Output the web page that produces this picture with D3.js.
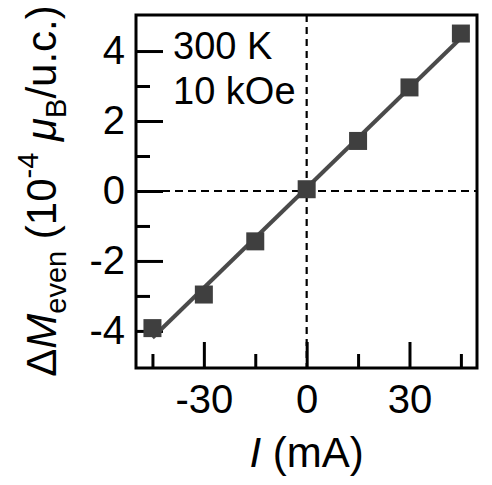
<!DOCTYPE html>
<html>
<head>
<meta charset="utf-8">
<script src="https://cdn.jsdelivr.net/npm/d3@7"></script>
<style>
  body { margin: 0; background: #fff; }
  text { font-family: "Liberation Sans", Arial, sans-serif; }
</style>
</head>
<body>
<div id="chart"></div>
<script>
// current (mA) and even magnetization change (10^-4 muB/u.c.)
var currents = [-45, -30, -15, 0, 15, 30, 45];
var deltaM = [-3.92, -2.96, -1.44, 0.05, 1.43, 2.96, 4.5];
var xMajorTicks = [-30, 0, 30];
var xMinorTicks = [-45, -15, 15, 45];
var yMajorTicks = [-4, -2, 0, 2, 4];
var yMinorTicks = [-3, -1, 1, 3];
var notes = ["300 K", "10 kOe"];

var W = 492, H = 485;
var margin = {left: 136, top: 15, right: 15, bottom: 117};
var w = W - margin.left - margin.right;
var h = H - margin.top - margin.bottom;

var svg = d3.select("#chart").append("svg")
  .attr("width", W)
  .attr("height", H);

var g = svg.append("g")
  .attr("transform", "translate(" + margin.left + "," + margin.top + ")");

var x = d3.scaleLinear().domain([-49.8, 49.7]).range([0, w]);
var y = d3.scaleLinear().domain([-5.06, 5.03]).range([h, 0]);

// dashed zero lines
g.append("line")
  .attr("x1", x(0)).attr("x2", x(0))
  .attr("y1", 0).attr("y2", h)
  .attr("stroke", "#000").attr("stroke-width", 2.2)
  .attr("stroke-dasharray", "7,5");
g.append("line")
  .attr("x1", 0).attr("x2", w)
  .attr("y1", y(0)).attr("y2", y(0))
  .attr("stroke", "#000").attr("stroke-width", 2.2)
  .attr("stroke-dasharray", "8,5");

// axes: major ticks with labels, minor ticks without
function styleAxis(sel) {
  sel.select(".domain").remove();
  sel.selectAll(".tick line").attr("stroke", "#000").attr("stroke-width", 3);
  sel.selectAll(".tick text")
    .attr("fill", "#000")
    .style("font-size", "40px");
}
var plain = function(d) { return String(d); };

var xAxis = g.append("g")
  .attr("transform", "translate(0," + h + ")")
  .call(d3.axisBottom(x).tickValues(xMajorTicks).tickSize(-26).tickPadding(17)
    .tickFormat(plain));
styleAxis(xAxis);

var xMinor = g.append("g")
  .attr("transform", "translate(0," + h + ")")
  .call(d3.axisBottom(x).tickValues(xMinorTicks).tickSize(-14).tickFormat(""));
styleAxis(xMinor);

var yAxis = g.append("g")
  .call(d3.axisLeft(y).tickValues(yMajorTicks).tickSize(-27).tickPadding(11)
    .tickFormat(plain));
styleAxis(yAxis);

var yMinor = g.append("g")
  .call(d3.axisLeft(y).tickValues(yMinorTicks).tickSize(-14).tickFormat(""));
styleAxis(yMinor);

// frame
g.append("rect")
  .attr("x", 0).attr("y", 0)
  .attr("width", w).attr("height", h)
  .attr("fill", "none")
  .attr("stroke", "#000")
  .attr("stroke-width", 3);

// data points and their linear fit
var pts = currents.map(function(c, i) { return [c, deltaM[i]]; });

var mx = d3.mean(currents), my = d3.mean(deltaM);
var slope = d3.sum(pts, function(d) { return (d[0] - mx) * (d[1] - my); }) /
  d3.sum(pts, function(d) { return (d[0] - mx) * (d[0] - mx); });
var ends = d3.extent(currents).map(function(c) { return [c, my + slope * (c - mx)]; });

g.append("path")
  .datum(ends)
  .attr("fill", "none")
  .attr("stroke", "#4a4a4a")
  .attr("stroke-width", 4)
  .attr("d", d3.line()
    .x(function(d) { return x(d[0]); })
    .y(function(d) { return y(d[1]); }));

var ms = 18;
g.selectAll("rect.pt")
  .data(pts)
  .enter()
  .append("rect")
  .attr("class", "pt")
  .attr("x", function(d) { return x(d[0]) - ms / 2; })
  .attr("y", function(d) { return y(d[1]) - ms / 2; })
  .attr("width", ms)
  .attr("height", ms)
  .attr("fill", "#3f3f3f");

// annotations
g.selectAll("text.note")
  .data(notes)
  .enter()
  .append("text")
  .attr("class", "note")
  .attr("x", 37)
  .attr("y", function(d, i) { return 44 + i * 45; })
  .style("font-size", "38px")
  .attr("fill", "#000")
  .text(function(d) { return d; });

// x label
var xl = svg.append("text")
  .attr("x", margin.left + x(0))
  .attr("y", 467)
  .attr("text-anchor", "middle")
  .style("font-size", "42px")
  .attr("fill", "#000");
xl.append("tspan").style("font-style", "italic").text("I");
xl.append("tspan").text(" (mA)");

// y label
var yl = svg.append("text")
  .attr("transform", "translate(56,191) rotate(-90)")
  .attr("text-anchor", "middle")
  .style("font-size", "42px")
  .attr("fill", "#000");
yl.append("tspan").text("\u0394");
yl.append("tspan").style("font-style", "italic").text("M");
yl.append("tspan").attr("dy", 10).style("font-size", "29px").text("even");
yl.append("tspan").attr("dy", -10).text(" (10");
yl.append("tspan").attr("dy", -18).style("font-size", "29px").text("-4");
yl.append("tspan").attr("dy", 18).style("font-style", "italic").text(" \u03bc");
yl.append("tspan").attr("dy", 10).style("font-size", "29px").text("B");
yl.append("tspan").attr("dy", -10).text("/u.c.)");
</script>
</body>
</html>
